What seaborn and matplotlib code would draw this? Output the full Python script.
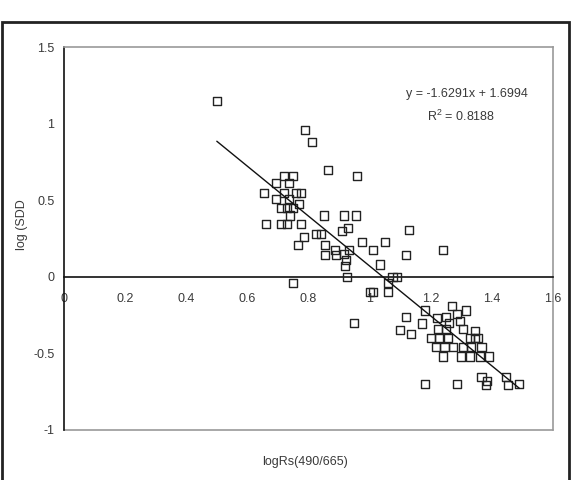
import numpy as np
import pandas as pd
import seaborn as sns
import matplotlib.pyplot as plt
from matplotlib.patches import Rectangle

# logRs(490/665) vs log(SDD)
log_rs = [0.50, 0.79, 0.81, 0.865, 0.96, 0.72, 0.75, 0.695, 0.735, 0.655,
          0.72, 0.76, 0.775, 0.695, 0.735, 0.71, 0.73, 0.75, 0.77, 0.74,
          0.85, 0.915, 0.955, 0.66, 0.71, 0.73, 0.775, 0.93, 0.91, 0.785,
          0.765, 0.825, 0.84, 0.855, 0.855, 0.887, 0.889, 0.917, 0.933, 0.922,
          0.92, 0.975, 1.01, 1.05, 1.035, 0.927, 0.75, 1.00, 1.01, 1.06,
          1.075, 1.09, 1.06, 1.13, 1.12, 1.24, 0.95,
          1.18, 1.27, 1.315, 1.22, 1.25, 1.285, 1.12, 1.17, 1.26, 1.295,
          1.10, 1.135, 1.223, 1.25, 1.305, 1.20, 1.227, 1.256, 1.327, 1.344,
          1.355, 1.218, 1.245, 1.272, 1.305, 1.333, 1.366, 1.24, 1.30, 1.327,
          1.36, 1.39, 1.18, 1.285, 1.366, 1.385, 1.38, 1.445, 1.453, 1.49, 1.345]
log_sdd = [1.15, 0.96, 0.88, 0.70, 0.66, 0.66, 0.66, 0.61, 0.61, 0.545,
           0.545, 0.545, 0.545, 0.51, 0.51, 0.45, 0.45, 0.45, 0.475, 0.40,
           0.40, 0.40, 0.40, 0.345, 0.345, 0.345, 0.345, 0.32, 0.30, 0.26,
           0.21, 0.28, 0.28, 0.21, 0.145, 0.175, 0.14, 0.15, 0.175, 0.11,
           0.07, 0.23, 0.175, 0.23, 0.08, 0.00, -0.04, -0.10, -0.10, -0.10,
           0.0, 0.0, -0.04, 0.305, 0.145, 0.175, -0.30,
           -0.22, -0.19, -0.22, -0.27, -0.26, -0.245, -0.26, -0.305, -0.30, -0.29,
           -0.35, -0.375, -0.34, -0.34, -0.34, -0.40, -0.40, -0.40, -0.40, -0.40,
           -0.40, -0.46, -0.46, -0.46, -0.46, -0.46, -0.46, -0.52, -0.52, -0.52,
           -0.52, -0.52, -0.70, -0.70, -0.655, -0.68, -0.705, -0.655, -0.705, -0.70, -0.355]

# trendline from the chart's label
slope = -1.6291
intercept = 1.6994
r2 = 0.8188

x_ticks = [0, 0.2, 0.4, 0.6, 0.8, 1, 1.2, 1.4, 1.6]
x_tick_labels = ['0', '0.2', '0.4', '0.6', '0.8', '1', '1.2', '1.4', '1.6']
y_ticks = [-1, -0.5, 0, 0.5, 1, 1.5]
y_tick_labels = ['-1', '-0.5', '0', '0.5', '1', '1.5']

df = pd.DataFrame({'x': log_rs, 'y': log_sdd})

sns.set_style('white')
plt.rcParams['font.family'] = ['Liberation Sans', 'DejaVu Sans']
plt.rcParams['mathtext.fontset'] = 'custom'
plt.rcParams['mathtext.rm'] = 'Liberation Sans'

txt = '#3a3a3a'
fs = 9
fig = plt.figure(figsize=(5.75, 4.8), dpi=100)
ax = fig.add_axes([64 / 575, 1 - 430 / 480, (553 - 64) / 575, (430 - 47) / 480])

# outer frame around the whole chart
fig.patches.append(Rectangle((2 / 575, -0.01), 567 / 575, (480 - 22) / 480 + 0.01,
                             transform=fig.transFigure, fill=False,
                             edgecolor='#222222', linewidth=2))

sns.scatterplot(data=df, x='x', y='y', marker='s', s=34, facecolor='none',
                edgecolor='#222222', linewidth=1.0, ax=ax, zorder=3)

line_x = np.array([min(log_rs), max(log_rs)])
sns.lineplot(x=line_x, y=slope * line_x + intercept, color='#111111',
             linewidth=1.0, ax=ax, zorder=4)

ax.set_xlim(0, 1.6)
ax.set_ylim(-1, 1.5)

# plot area border in grey, axes in black
for side in ['top', 'right']:
    ax.spines[side].set_color('#999999')
    ax.spines[side].set_linewidth(1.2)
ax.spines['left'].set_color('#111111')
ax.spines['left'].set_linewidth(1.2)
ax.spines['bottom'].set_position(('data', 0))
ax.spines['bottom'].set_color('#111111')
ax.spines['bottom'].set_linewidth(1.2)
ax.plot([0, 1.6], [-1, -1], color='#999999', linewidth=1.2, clip_on=False, zorder=1)

ax.set_xticks(x_ticks)
ax.set_xticklabels(x_tick_labels)
ax.set_yticks(y_ticks)
ax.set_yticklabels(y_tick_labels)
ax.tick_params(axis='x', direction='in', length=5, width=1, color='#111111',
               labelsize=fs, labelcolor=txt, pad=12)
ax.tick_params(axis='y', direction='out', length=4, width=1, color='#111111',
               labelsize=fs, labelcolor=txt, pad=3)

ax.set_xlabel('')
ax.set_ylabel('')
fig.text(305 / 575, 1 - 462 / 480, 'logRs(490/665)', ha='center', va='center',
         fontsize=fs, color=txt)
fig.text(22 / 575, 1 - 225 / 480, 'log (SDD', ha='center', va='center',
         rotation=90, fontsize=fs, color=txt)

ax.text(1.32, 1.19, f'y = {slope}x + {intercept}', ha='center', va='center',
        fontsize=fs, color=txt)
ax.text(1.30, 1.05, f'R$^2$ = {r2}', ha='center', va='center',
        fontsize=fs, color=txt)

fig.savefig('out.png', dpi=100)
